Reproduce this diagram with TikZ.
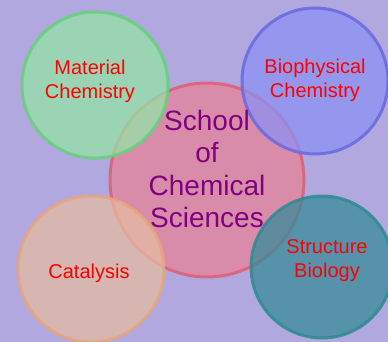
\documentclass[tikz,border=0pt]{standalone}
\usepackage{fontspec}
\setmainfont{Liberation Sans}
\definecolor{bg}{RGB}{176,168,222}
\definecolor{gfill}{RGB}{148,227,166}
\definecolor{gline}{RGB}{100,210,120}
\definecolor{bfill}{RGB}{141,144,243}
\definecolor{bline}{RGB}{105,105,225}
\definecolor{pfill}{RGB}{232,131,153}
\definecolor{pline}{RGB}{222,95,115}
\definecolor{cfill}{RGB}{229,187,163}
\definecolor{cline}{RGB}{230,165,125}
\definecolor{tfill}{RGB}{56,139,153}
\definecolor{tline}{RGB}{45,140,145}
\definecolor{labred}{RGB}{255,0,0}
\definecolor{titlec}{RGB}{128,0,128}
\tikzset{
  bubble/.style={circle, draw, line width=3pt, fill opacity=0.75, draw opacity=0.85, inner sep=0pt},
  lab/.style={text=labred, font=\fontsize{20}{24}\selectfont, align=center},
  ttl/.style={text=titlec, font=\fontsize{28}{32.5}\selectfont, align=center}
}
\begin{document}
\begin{tikzpicture}[x=1pt,y=-1pt]
\fill[bg] (0,0) rectangle (388,342);
\useasboundingbox (0,0) rectangle (388,342);
\node[bubble, fill=pfill, draw=pline, minimum size=194pt] (school) at (207,180) {};
\node[bubble, fill=gfill, draw=gline, minimum size=146pt] (mat) at (95,85) {};
\node[bubble, fill=bfill, draw=bline, minimum size=146pt] (bio) at (315,81) {};
\node[bubble, fill=cfill, draw=cline, minimum size=146pt] (cat) at (91,269) {};
\node[bubble, fill=tfill, draw=tline, minimum size=142pt] (str) at (322,267) {};
\node[ttl] (tschool) at (207,169) {School\\of\\Chemical\\Sciences};
\node[lab] (tmat) at (90,81) {Material\\Chemistry};
\node[lab] (tbio) at (315,80) {Biophysical\\Chemistry};
\node[lab] (tcat) at (89,273) {Catalysis};
\node[lab] (tstr) at (327,261) {Structure\\Biology};
\end{tikzpicture}
\end{document}
